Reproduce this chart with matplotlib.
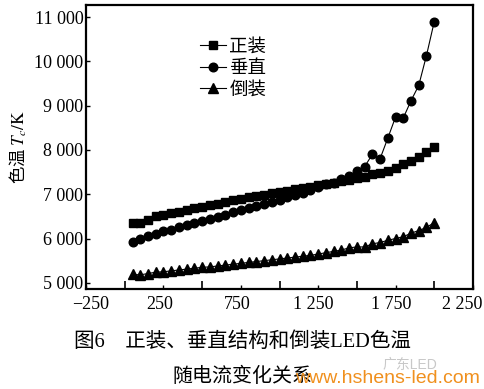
import numpy as np
import matplotlib
matplotlib.use("Agg")
import matplotlib.pyplot as plt
import matplotlib.transforms as mtransforms
from matplotlib.ticker import FixedLocator, FuncFormatter


# =========================
# DATA
# =========================

current = list(range(50, 2001, 50))

zhengzhuang = [
    6360, 6340, 6420, 6500, 6530, 6570, 6600, 6650, 6680, 6720,
    6760, 6790, 6830, 6860, 6890, 6930, 6960, 6990, 7020, 7050,
    7080, 7110, 7140, 7170, 7200, 7230, 7260, 7300, 7330, 7370,
    7400, 7450, 7470, 7520, 7600, 7680, 7760, 7850, 7960, 8070,
]

chuizhi = [
    5930, 5990, 6060, 6110, 6160, 6200, 6260, 6300, 6350, 6400,
    6440, 6490, 6540, 6600, 6650, 6700, 6740, 6780, 6820, 6860,
    6930, 6980, 7030, 7100, 7170, 7230, 7260, 7340, 7420, 7530,
    7620, 7900, 7800, 8265, 8740, 8720, 9110, 9455, 10130, 10890,
]

daozhuang = [
    5190, 5180, 5210, 5240, 5250, 5270, 5290, 5310, 5330, 5350,
    5360, 5380, 5400, 5420, 5440, 5460, 5480, 5500, 5520, 5540,
    5560, 5580, 5600, 5620, 5650, 5680, 5710, 5740, 5790, 5810,
    5810, 5880, 5910, 5960, 6000, 6040, 6120, 6180, 6250, 6360,
]

series_names = ["正装", "垂直", "倒装"]

x_labels = [-250, 250, 750, 1250, 1750, 2250]
x_marks = [0, 500, 1000, 1500, 2000]
y_labels = [5000, 6000, 7000, 8000, 9000, 10000, 11000]


# =========================
# STYLE
# =========================

plt.rcParams["font.family"] = ["Liberation Serif", "Noto Sans CJK SC"]
plt.rcParams["mathtext.fontset"] = "stix"
plt.rcParams["axes.unicode_minus"] = True


def thousands(v, pos):
    s = f"{abs(v):,.0f}".replace(",", " ")
    return ("\u2212" + s) if v < 0 else s


# =========================
# PLOT
# =========================

fig = plt.figure(figsize=(4.84, 3.89), dpi=100)
ax = fig.add_axes([0.178, 0.257, 0.799, 0.730])

ax.plot(current, zhengzhuang, color="black", lw=0.8,
        marker="s", markersize=5.4, label=series_names[0])
ax.plot(current, chuizhi, color="black", lw=0.8,
        marker="o", markersize=6.2, label=series_names[1])
ax.plot(current, daozhuang, color="black", lw=0.8,
        marker="^", markersize=6.6, label=series_names[2])

ax.set_xlim(-250, 2250)
ax.set_ylim(4860, 11270)

ax.xaxis.set_major_locator(FixedLocator(x_labels))
ax.xaxis.set_minor_locator(FixedLocator(x_marks))
ax.yaxis.set_major_locator(FixedLocator(y_labels))
ax.xaxis.set_major_formatter(FuncFormatter(thousands))
ax.yaxis.set_major_formatter(FuncFormatter(thousands))

ax.tick_params(axis="both", which="major", direction="in", length=3,
               width=1, labelsize=13, top=False, right=False)
ax.tick_params(axis="x", which="minor", direction="in", length=6,
               width=1.2, top=False)
ax.tick_params(axis="x", which="major", pad=5)
ax.tick_params(axis="y", which="major", pad=2)

for sp in ax.spines.values():
    sp.set_linewidth(1.6)

# x labels sit a little off their ticks in the original
fig.canvas.draw()
shifts = [4, -4, -4, -5, -4, -11]
for lab, dx in zip(ax.get_xticklabels(), shifts):
    off = mtransforms.ScaledTranslation(dx / 100, 0, fig.dpi_scale_trans)
    lab.set_transform(lab.get_transform() + off)

ax.set_ylabel(r"色温 $T_c/\mathrm{K}$", fontsize=12.5, labelpad=4,
              family="Noto Sans CJK SC")

leg = ax.legend(loc="upper left", bbox_to_anchor=(0.27, 0.915),
                frameon=False, fontsize=13.3, handlelength=1.4,
                handletextpad=0.2, labelspacing=0.25, borderpad=0)

# caption
fig.text(0.5, 0.121, "图6\u3000正装、垂直结构和倒装LED色温",
         ha="center", va="center", fontsize=14.8)
fig.text(0.5, 0.03, "随电流变化关系", ha="center", va="center",
         fontsize=14.4)

# watermark
fig.text(0.79, 0.062, "广东LED", ha="left", va="center", fontsize=10,
         color="#c8c8c8", family=["Liberation Sans", "Noto Sans CJK SC"])
fig.text(0.992, 0.028, "www.hshens-led.com", ha="right", va="center",
         fontsize=14, color="#f0901e", family="Liberation Sans")

fig.savefig("out.png", dpi=100)
